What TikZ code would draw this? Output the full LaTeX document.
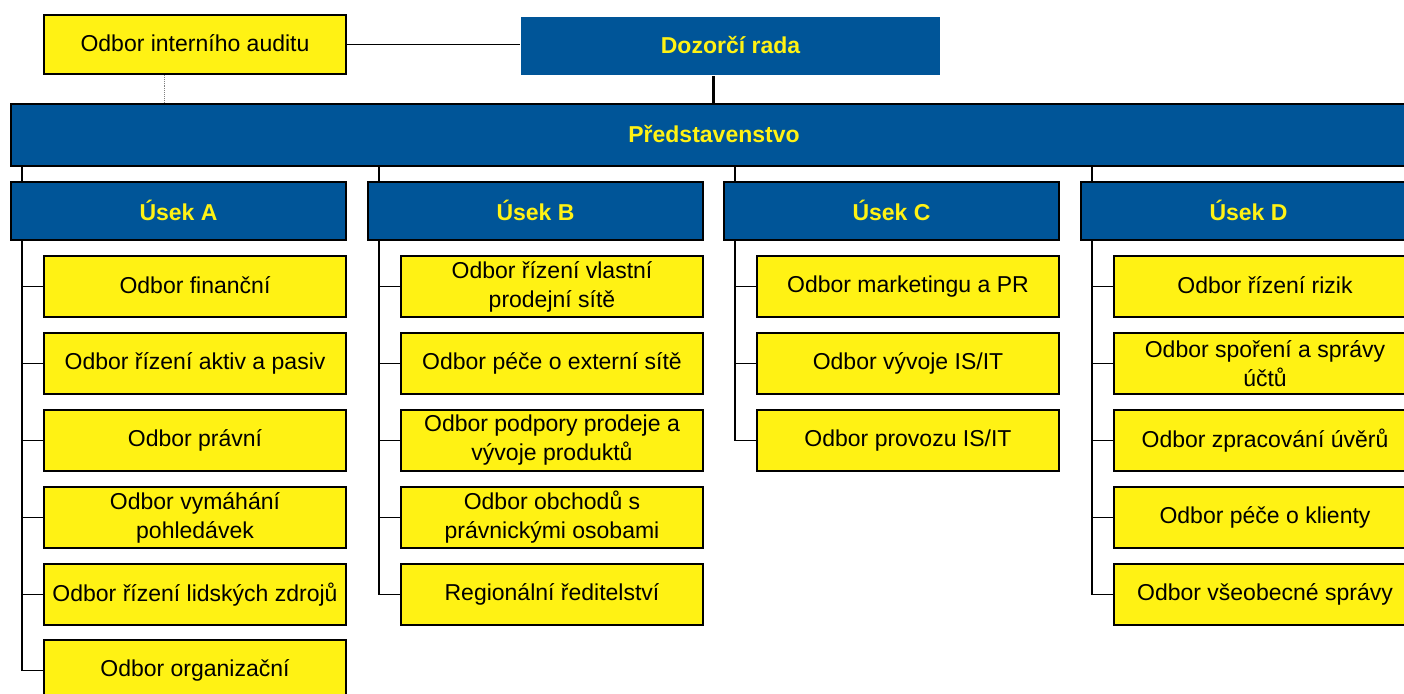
\documentclass[tikz,border=0pt]{standalone}
\usepackage{fontspec}
\setmainfont{Liberation Sans}
\usetikzlibrary{calc}
\definecolor{ublue}{HTML}{005598}
\definecolor{uyellow}{HTML}{FFF214}
\tikzset{
  ybox/.style={draw=black, line width=2pt, fill=uyellow, minimum width=302pt, minimum height=61pt,
    inner sep=0pt, anchor=north west, align=center, font=\fontsize{23}{29}\selectfont},
  bbox/.style={draw=black, line width=2pt, fill=ublue, text=uyellow, minimum height=58pt,
    inner sep=0pt, anchor=north west, align=center, font=\fontsize{23}{29}\selectfont\bfseries},
  usek/.style={bbox, minimum width=335pt},
  spine/.style={draw=black, line width=2.2pt},
  branch/.style={draw=black, line width=1.6pt},
  up/.style={yshift=2pt},
}
\newcommand{\lift}[1]{\raisebox{2pt}{#1}}
\begin{document}
\begin{tikzpicture}[x=1pt,y=-1pt]
\useasboundingbox (0,0) rectangle (1404,693);
\clip (0,0) rectangle (1404,693);
\fill[white] (0,0) rectangle (1404,693);

% top
\node[ybox, minimum height=59pt] (audit) at (43,14) {\lift{Odbor interního auditu}};
\node[bbox, draw=none, minimum width=419pt] (dozor) at (520,16) {\lift{Dozorčí rada}};
\node[bbox, minimum width=1406pt, minimum height=62pt] (pred) at (10,103) {\lift{Představenstvo}};

% sections
\node[usek] (uA) at (10,181) {\lift{Úsek A}};
\node[usek] (uB) at (367,181) {\lift{Úsek B}};
\node[usek] (uC) at (723,181) {\lift{Úsek C}};
\node[usek] (uD) at (1080,181) {\lift{Úsek D}};

% section A
\node[ybox] (a1) at (43,255) {\lift{Odbor finanční}};
\node[ybox] (a2) at (43,332) {\lift{Odbor řízení aktiv a pasiv}};
\node[ybox] (a3) at (43,409) {\lift{Odbor právní}};
\node[ybox] (a4) at (43,486) {Odbor vymáhání\\pohledávek};
\node[ybox] (a5) at (43,563) {\lift{Odbor řízení lidských zdrojů}};
\node[ybox] (a6) at (43,639) {\lift{Odbor organizační}};

% section B
\node[ybox] (b1) at (400,255) {Odbor řízení vlastní\\prodejní sítě};
\node[ybox] (b2) at (400,332) {\lift{Odbor péče o externí sítě}};
\node[ybox] (b3) at (400,409) {Odbor podpory prodeje a\\vývoje produktů};
\node[ybox] (b4) at (400,486) {Odbor obchodů s\\právnickými osobami};
\node[ybox] (b5) at (400,563) {\lift{Regionální ředitelství}};

% section C
\node[ybox] (c1) at (756,255) {\lift{Odbor marketingu a PR}};
\node[ybox] (c2) at (756,332) {\lift{Odbor vývoje IS/IT}};
\node[ybox] (c3) at (756,409) {\lift{Odbor provozu IS/IT}};

% section D
\node[ybox] (d1) at (1113,255) {\lift{Odbor řízení rizik}};
\node[ybox] (d2) at (1113,332) {Odbor spoření a správy\\účtů};
\node[ybox] (d3) at (1113,409) {\lift{Odbor zpracování úvěrů}};
\node[ybox] (d4) at (1113,486) {\lift{Odbor péče o klienty}};
\node[ybox] (d5) at (1113,563) {\lift{Odbor všeobecné správy}};

% top connectors
\draw[branch] (audit.east) -- (audit.east -| dozor.west);
\coordinate (au) at ($(audit.south)+(-31,0)$);
\draw[densely dotted, gray, line width=0.9pt] (au) -- (au |- pred.north);
\coordinate (dz) at ($(dozor.south)+(-17,0)$);
\draw[spine] (dz) -- (dz |- pred.north);

% section connectors
\foreach \u/\last/\kids in {uA/a6/{a1,a2,a3,a4,a5,a6}, uB/b5/{b1,b2,b3,b4,b5}, uC/c3/{c1,c2,c3}, uD/d5/{d1,d2,d3,d4,d5}}{
  \coordinate (s) at ($(\u.north west)+(12,0)$);
  \draw[spine] (s |- pred.south) -- (s);
  \draw[spine] (s |- \u.south) -- (s |- \last.west);
  \foreach \k in \kids {
    \draw[branch] (s |- \k.west) -- (\k.west);
  }
}
\end{tikzpicture}
\end{document}
